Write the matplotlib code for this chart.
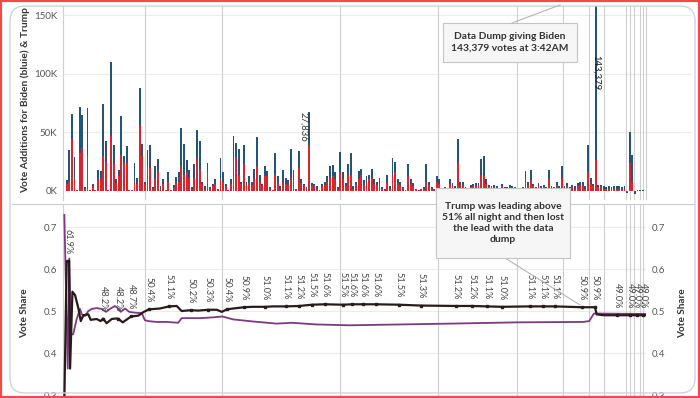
import matplotlib
matplotlib.use('agg')
import matplotlib.pyplot as plt
from matplotlib.patches import Rectangle, FancyBboxPatch
from matplotlib.lines import Line2D

plt.rcParams['font.family'] = ['Lato', 'DejaVu Sans']

W, H = 700, 398

# vote additions per update, thousands of votes
trump = [6, 8, 44, 10, 0.5, 32, 37, 2, 30, 0.5,
         4, 0.5, 10, 10, 30, 25, 0.5, 47, 23, 7,
         13, 31, 24, 24, 0.5, 0.5, 8, 6, 56, 30,
         6, 21, 20, 2, 10, 17, 2, 6, 0.5, 8,
         0.5, 3, 7, 8, 21, 14, 16, 11, 2, 11,
         28, 18, 6, 2, 16, 2, 4, 6, 1, 10,
         8, 4, 0.5, 6, 28, 28, 14, 6, 23, 5,
         7, 5, 10, 21, 8, 4, 13, 13, 2, 0.5,
         14, 7, 2, 8, 6, 5, 11, 10, 1, 20,
         7, 4, 2, 39.2, 5, 4, 2, 0.5, 4, 5,
         8, 11, 13, 10, 2, 16, 10, 4, 14,
         14, 2, 5, 10, 14, 5, 8, 10, 11, 6,
         5, 6, 2, 1, 8, 2, 14, 16, 7, 5,
         2, 0.5, 13, 6, 4, 1, 0.5, 1, 2, 8,
         5, 2, 1, 8, 6, 0.5, 2, 0.5, 6, 4,
         2, 24, 5, 5, 2, 0.5, 3, 4, 4, 4,
         14, 13, 6, 3, 2, 3, 2, 1, 4, 2,
         2, 3, 2, 2, 1, 0.5, 2, 9, 5, 9,
         4, 2, 4, 2, 3, 2, 10, 2, 2, 5,
         2, 11, 2, 4, 2, 3, 2, 4, 5, 5,
         2, 16, 6, 4, 26, 3, 3, 2, 2, 2,
         2, 2, 2, 2, 2, 2, -1, 24, 8, -1,
         0.3, 0.3, 0.3]
biden = [3, 27, 22, 19, 0.5, 40, 28, 1, 41, 0.5,
         2, 0.5, 8, 7, 44, 18, 0.5, 63, 16, 3,
         5, 33, 6, 14, 0.5, 0.5, 16, 5, 32, 10,
         2, 14, 19, 1, 11, 10, 2, 4, 0.5, 8,
         0.5, 2, 5, 8, 33, 26, 10, 7, 1, 12,
         24, 25, 2, 2, 8, 1, 2, 4, 1, 18,
         8, 2, 0.5, 4, 19, 13, 22, 2, 16, 3,
         6, 3, 9, 25, 6, 2, 8, 4, 1, 0.5,
         18, 6, 2, 10, 5, 4, 25, 8, 1, 14,
         3, 2, 1, 27.836, 2, 2, 2, 0.5, 2, 3,
         5, 10, 9, 6, 1, 17, 6, 3, 9,
         18, 2, 3, 7, 5, 4, 5, 4, 8, 4,
         3, 5, 1, 1, 6, 2, 14, 9, 3, 3,
         1, 0.5, 10, 4, 3, 1, 0.5, 1, 1, 15,
         3, 1, 1, 5, 4, 0.5, 1, 0.5, 4, 3,
         2, 20, 3, 3, 1, 0.5, 2, 2, 3, 3,
         13, 17, 4, 2, 2, 2, 2, 1, 2, 1,
         1, 2, 2, 1, 1, 0.5, 1, 8, 3, 9,
         2, 1, 3, 2, 2, 1, 8, 2, 1, 3,
         2, 10, 2, 3, 1, 2, 2, 3, 3, 3,
         2, 23, 5, 2, 143.379, 2, 2, 2, 1, 2,
         1, 2, 2, 2, 1, 2, -1, 26, 23, -2,
         0.2, 0.2, 0.2]
labelled_bars = [93, 203]

# hour boundaries (update index)
hour_marks = [30.0, 59.6, 104.9, 142.5, 172.8, 190.5, 200.4, 206.2,
              214.7, 216.2, 217.8, 220.1, 221.2, 222.3]

# vote share
trump_x = [-0.9, 0.0, 0.9, 1.3, 2.2, 3.2, 4.5, 5.4, 6.4, 8.3, 9.2, 11.5, 13.0,
           14.0, 15.3, 17.3, 18.5, 19.7, 21.5, 24.7, 27.5, 29.6, 31.6, 35.8,
           39.3, 42.2, 44.1, 47.7, 50.5, 54.2, 57.6, 59.5, 61.5, 63.9, 68.0,
           71.2, 76.1, 79.3, 84.2, 89.2, 94.1, 99.1, 106.0, 109.5, 113.7,
           118.7, 127.5, 136.0, 149.4, 155.5, 161.3, 167.1, 177.8, 182.8,
           187.4, 197.8, 202.7, 203.4, 206.0, 211.2, 216.2, 218.8, 221.1, 222.3]
trump_share = [0.29, 0.619, 0.619, 0.363, 0.546, 0.538, 0.506, 0.476, 0.49,
               0.492, 0.479, 0.481, 0.476, 0.482, 0.471, 0.481, 0.482, 0.482,
               0.473, 0.487, 0.489, 0.498, 0.504, 0.506, 0.511, 0.512, 0.500,
               0.502, 0.501, 0.503, 0.503, 0.498, 0.504, 0.506, 0.509, 0.510,
               0.510, 0.511, 0.511, 0.512, 0.515, 0.516, 0.515, 0.516, 0.516,
               0.516, 0.515, 0.513, 0.512, 0.512, 0.511, 0.510, 0.511, 0.511,
               0.511, 0.509, 0.509, 0.492, 0.490, 0.490, 0.490, 0.490, 0.490,
               0.490]
biden_x = [-0.9, 0.4, 1.0, 1.65, 2.5, 3.8, 5.1, 5.8, 7.0, 8.3, 9.6, 11.5, 13.4,
           15.1, 16.6, 18.5, 19.4, 20.7, 22.4, 24.0, 26.2, 28.8, 30.0, 31.3,
           34.5, 38.4, 42.8, 44.1, 51.2, 56.3, 59.7, 63.9, 71.6, 80.6, 86.3,
           95.9, 108.7, 147.1, 172.7, 198.2, 200.5, 202.3, 222.3]
biden_share = [0.729, 0.363, 0.625, 0.443, 0.445, 0.48, 0.505, 0.492, 0.488,
               0.50, 0.505, 0.507, 0.505, 0.498, 0.505, 0.512, 0.508, 0.498,
               0.506, 0.498, 0.496, 0.495, 0.478, 0.476, 0.474, 0.474, 0.472,
               0.483, 0.483, 0.485, 0.487, 0.48, 0.475, 0.470, 0.472, 0.468,
               0.466, 0.470, 0.473, 0.474, 0.476, 0.494, 0.493]
label_x = [0.5, 14.0, 19.7, 24.7, 31.6, 39.3, 47.7, 54.2, 61.5, 68.0, 76.1,
           84.2, 89.2, 94.1, 99.1, 106.0, 109.5, 113.7, 118.7, 127.5, 136.0,
           149.4, 155.5, 161.3, 167.1, 177.8, 182.8, 187.4, 197.8, 202.7,
           211.2, 216.2, 218.8, 221.1]
label_pct = [61.9, 48.2, 48.2, 48.7, 50.4, 51.1, 50.2, 50.3, 50.4, 50.9, 51.0,
             51.1, 51.2, 51.5, 51.6, 51.5, 51.6, 51.6, 51.6, 51.5, 51.3, 51.2,
             51.2, 51.1, 51.0, 51.1, 51.1, 51.1, 50.9, 50.9, 49.0, 49.0, 49.0,
             49.0]

BLUE = '#245579'
RED = '#d8262e'
GRID = '#cfcfcf'


def fx(px):
    return px / W


def fy(py):
    return 1 - py / H


fig = plt.figure(figsize=(7, 3.98), dpi=100)

# top panel: vote additions
ax1 = fig.add_axes([fx(63), fy(200), (692 - 63) / W, 194 / H])
xs = list(range(len(trump)))
ax1.bar(xs, trump, width=0.72, color=RED, zorder=3)
ax1.bar(xs, biden, bottom=trump, width=0.72, color=BLUE, zorder=2)
ax1.set_xlim(-1.42, 239.9)
ax1.set_ylim(-7.7, 157.7)
ax1.set_yticks([0, 50, 100, 150])
ax1.set_yticklabels(['0K', '50K', '100K', '150K'])
ax1.set_xticks([])
for v in [50, 100, 150]:
    ax1.axhline(v, color='#ececec', lw=0.8, zorder=0)
for h in hour_marks:
    ax1.axvline(h, color=GRID, lw=0.8, zorder=1)
for s in ['top', 'right', 'bottom']:
    ax1.spines[s].set_visible(False)
ax1.spines['left'].set_color(GRID)
ax1.tick_params(length=0, labelsize=7, labelcolor='#555555', pad=4)

i = labelled_bars[0]
ax1.text(i - 0.6, trump[i] + biden[i], f"{biden[i] * 1000:,.0f}", rotation=270,
         ha='right', va='top', fontsize=6.8, color='#333333', zorder=5)
i = labelled_bars[1]
ax1.text(i, 116, f"{biden[i] * 1000:,.0f}", rotation=270,
         ha='center', va='top', fontsize=6.8, color='#1a1a1a', zorder=5)

# bottom panel: vote share
ax2 = fig.add_axes([fx(63), 0, (646 - 63) / W, 194 / H])
for h in hour_marks:
    ax2.axvline(h, color=GRID, lw=0.8, zorder=1)
for v in [0.3, 0.4, 0.5, 0.6, 0.7]:
    ax2.axhline(v, color='#ececec', lw=0.8, zorder=0)
ax2.plot(biden_x, biden_share, color='#7d3a7f', lw=1.3, zorder=3)
ax2.plot(trump_x, trump_share, color='#2a1b1b', lw=1.6, zorder=4)
ax2.plot(label_x, [p / 100 for p in label_pct], 's', ms=2, color='#2a1b1b', zorder=4)
for lx, lp in zip(label_x, label_pct):
    ax2.annotate(f"{lp:.1f}%", (lx, lp / 100), xytext=(0, 5),
                 textcoords='offset points', rotation=270, ha='center',
                 va='bottom', fontsize=6.6, color='#444444', zorder=5)
ax2.set_xlim(-1.42, 222.3)
ax2.set_ylim(0.2929, 0.7548)
ax2.set_yticks([0.3, 0.4, 0.5, 0.6, 0.7])
ax2.set_yticklabels(['0.3', '0.4', '0.5', '0.6', '0.7'])
ax2.set_xticks([])
for s in ['top', 'right', 'bottom']:
    ax2.spines[s].set_visible(False)
ax2.spines['left'].set_color(GRID)
ax2.tick_params(length=0, labelsize=7, labelcolor='#555555', pad=4,
                labelright=True)

# axis titles
t = fig.text(fx(25), fy(193), 'Vote Additions for Biden (bluie) & Trump (red)',
             rotation=90, ha='center', va='bottom', fontsize=7.3,
             fontweight='bold', color='#333333')
t.set_clip_path(Rectangle((0, 0), 1, fy(7), transform=fig.transFigure))
fig.text(fx(25), fy(313), 'Vote Share', rotation=90, ha='center', va='center',
         fontsize=7.2, fontweight='bold', color='#333333')
fig.text(fx(683), fy(313), 'Vote Share', rotation=90, ha='center', va='center',
         fontsize=7.2, fontweight='bold', color='#333333')

# panel separator and card frame
fig.add_artist(Line2D([fx(12), fx(694)], [fy(204), fy(204)], color='#c9cdd2',
                      lw=0.8, transform=fig.transFigure))
fig.add_artist(FancyBboxPatch((0.10, (H - 393) / 100), 6.85, 3.87,
                              boxstyle='round,pad=0,rounding_size=0.15',
                              fc='none', ec='#cdd4dc', lw=1,
                              transform=fig.dpi_scale_trans))

# annotations
fig.add_artist(Line2D([fx(512), fx(560)], [fy(23), fy(5)], color='#b5b5b5',
                      lw=0.8, transform=fig.transFigure, zorder=6))
fig.add_artist(Rectangle((fx(443), fy(62)), (577 - 443) / W, 39 / H,
                         fc='#f6f6f6', ec='#c4c4c4', lw=0.8,
                         transform=fig.transFigure, zorder=7))
fig.text(fx(510), fy(42.5), 'Data Dump giving Biden\n143,379 votes at 3:42AM',
         ha='center', va='center', fontsize=7.4, fontweight='bold',
         color='#333333', linespacing=1.3, zorder=8)

fig.add_artist(Line2D([fx(505), fx(580)], [fy(258), fy(305)], color='#b5b5b5',
                      lw=0.8, transform=fig.transFigure, zorder=6))
fig.add_artist(Rectangle((fx(436), fy(258)), (570 - 436) / W, 70 / H,
                         fc='#f6f6f6', ec='#c4c4c4', lw=0.8,
                         transform=fig.transFigure, zorder=7))
fig.text(fx(503), fy(223), 'Trump was leading above\n51% all night and then lost\n'
         'the lead with the data\ndump', ha='center', va='center', fontsize=7.4,
         fontweight='bold', color='#333333', linespacing=1.3, zorder=8)

# red outer border
fig.add_artist(Rectangle((0, 0), 1, 1, fill=False, ec='#f24a4a', lw=3,
                         transform=fig.transFigure, zorder=10))

fig.savefig('out.png', dpi=100)
